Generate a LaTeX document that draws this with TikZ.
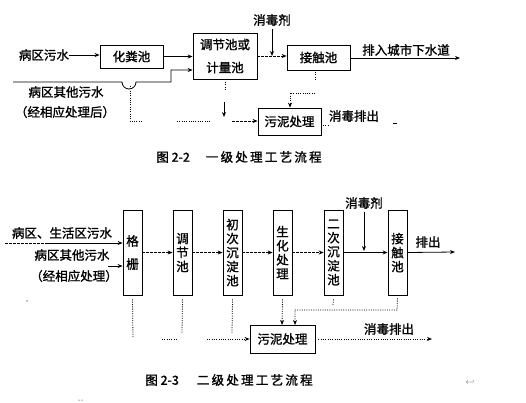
\documentclass[tikz,border=0pt]{standalone}
\usepackage{fontspec}
\newfontfamily\cjk[FakeBold=1.3]{Noto Sans CJK SC}
\newfontfamily\cjkcap[FakeBold=1.5]{Noto Sans CJK SC}
\usetikzlibrary{arrows.meta}
\tikzset{
  txt/.style={inner sep=0pt, font=\cjk\fontsize{12.5}{14}\selectfont},
  box/.style={draw, line width=0.8pt, inner sep=0pt, align=center, font=\cjk\fontsize{12.5}{14}\selectfont},
  vbox/.style={box, minimum width=19pt, minimum height=85pt},
  arr/.style={-{Stealth[length=5pt,width=4pt]}},
  ln/.style={line width=0.8pt},
  dotl/.style={line width=0.8pt, dash pattern=on 1pt off 1.3pt},
  dashl/.style={line width=0.8pt, dash pattern=on 2.5pt off 1.5pt},
  captxt/.style={inner sep=0pt, font=\cjkcap\fontsize{12.5}{14}\selectfont}
}
\newcommand\capsp[1]{{\addfontfeature{LetterSpace=18}#1}}
\begin{document}
\begin{tikzpicture}[x=1pt,y=-1pt]
\useasboundingbox (0,0) rectangle (526,402);
% ---------- Diagram 1 ----------
\node[txt] (t1) at (44,55) {病区污水};
\node[box, minimum width=63pt, minimum height=23pt] (hfc) at (131.5,56.5) {化粪池};
\node[box, minimum width=64pt, minimum height=46pt] (tj) at (225,56) {调节池或\\[9pt]计量池};
\node[box, minimum width=63pt, minimum height=25pt] (jc) at (318.5,57.5) {接触池};
\node[box, minimum width=63pt, minimum height=27pt] (snt) at (289.5,121.5) {污泥处理};
\node[txt] (t2) at (66,92) {病区其他污水};
\node[txt] (t3) at (65,112) {（经相应处理后）};
\node[txt] (xdj) at (272,20) {消毒剂};
\node[txt] (out1) at (406,50) {排入城市下水道};
\node[txt] (xd1) at (354,116) {消毒排出};
\coordinate (s2) at (13,82);
\coordinate (c1) at (171,70);
\coordinate (e1) at (460,58);

\draw[ln,arr] (t1.east) -- (hfc.west |- t1.east);
\draw[ln,arr] (hfc.east) -- (tj.west |- hfc.east);
\draw[ln,arr] (s2) -- (122,82) arc[start angle=180,end angle=0,radius=7] -- (171,82) -- (c1) -- (c1 -| tj.west);
\draw[dotl] (130,86) -- (130,121) -- (143,121);
\draw[dotl] (177,121) -- (210,121);
\draw[dashl,arr] (232,121) -- (snt.west |- 0,121);
\draw[dotl] (225,82) -- (225,89);
\draw[ln,arr] (224,102) -- (224,117);
\draw[dashl,arr] (tj.east) -- (jc.west |- tj.east);
\draw[ln,arr] (xdj.south) ++(0,3) -- (272,56);
\draw[ln,arr] (jc.east |- e1) -- (e1);
\draw[dotl] (315,72) -- (315,80);
\draw[dotl,arr] (315,93) -- (290,93) -- (snt.north -| 290,0);
\draw[dotl] (323,125) -- (328,125);
\draw[ln] (393,123) -- (397,123);
\node[captxt] (cap1) at (239,157) {图 2-2\hspace{16pt}\capsp{一级处理工艺流程}};

% ---------- Diagram 2 ----------
\node[vbox] (g1) at (132.5,252.5) {格\\[9pt]栅};
\node[vbox] (g2) at (182.5,252.5) {调\\节\\池};
\node[vbox] (g3) at (232.5,252.5) {初\\次\\沉\\淀\\池};
\node[vbox] (g4) at (282.5,252.5) {生\\化\\处\\理};
\node[vbox] (g5) at (333.5,252.5) {二\\次\\沉\\淀\\池};
\node[vbox] (g6) at (397.5,252.5) {接\\触\\池};
\node[box, minimum width=65pt, minimum height=28pt] (snt2) at (282.5,339) {污泥处理};
\node[txt] (u1) at (62,233) {病区、生活区污水};
\node[txt] (u2) at (72,255) {病区其他污水};
\node[txt] (u3) at (74,276) {（经相应处理）};
\node[txt] (xdj2) at (364,203) {消毒剂};
\node[txt] (out2) at (428,242) {排出};
\node[txt] (xd2) at (389,329) {消毒排出};
\coordinate (a0) at (5,243);
\coordinate (a1) at (48,243);
\coordinate (b0) at (108,266);
\coordinate (e2) at (455,252);

\draw[dashl] (a0) -- (a1);
\draw[ln,arr] (a1) -- (a1 -| g1.west);
\draw[ln,arr] (b0) -- (b0 -| g1.west);
\draw[dashl,arr] (g1.east) -- (g2.west);
\draw[dashl,arr] (g2.east) -- (g3.west);
\draw[dashl,arr] (g3.east) -- (g4.west);
\draw[dashl,arr] (g4.east) -- (g5.west);
\draw[ln,arr] (g5.east) -- (g6.west);
\draw[ln,arr] (xdj2.south) ++(0,3) -- (364,251);
\draw[ln,arr] (g6.east) -- (e2);
\draw[dotl] (g1.south) ++(0,4) -- (133,338);
\draw[dotl] (g2.south) ++(0,4) -- (182,333);
\draw[dotl] (162,339) -- (177,339);
\draw[dotl] (g3.south) ++(0,4) -- (232,333);
\draw[dotl,arr] (207,339) -- (snt2.west);
\draw[dotl,arr] (g4.south) ++(0,4) -- (282,325);
\draw[dotl] (g5.south) ++(0,4) -- (333,305);
\draw[dotl,arr] (g6.south) ++(0,3) -- (397,310) -- (295,310) -- (295,325);
\draw[dotl,arr] (snt2.east) ++(3,0) -- (432,339);
\fill (27,301) circle (0.7pt);
\node[captxt] (cap2) at (229,380) {图 2-3\hspace{18pt}\capsp{二级处理工艺流程}};
\node[inner sep=0pt, font=\fontsize{8}{8}\selectfont, text=black!60] (ret) at (470,383) {$\hookleftarrow$};
\fill (79,400) circle (0.5pt) (82,400) circle (0.5pt);
\end{tikzpicture}
\end{document}
